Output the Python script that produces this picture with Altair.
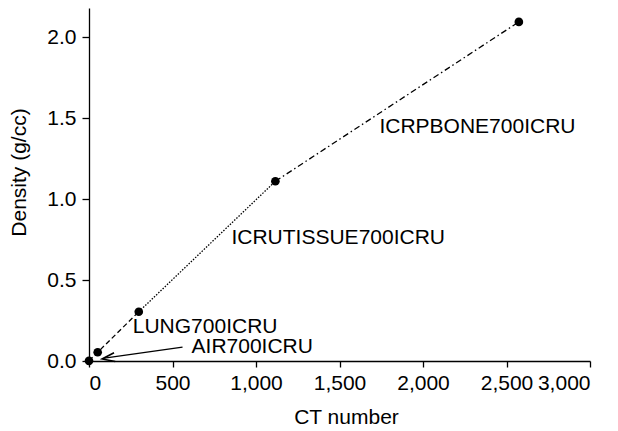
import altair as alt
import pandas as pd

# Data
materials = ["AIR700ICRU", "AIR700ICRU", "LUNG700ICRU", "ICRUTISSUE700ICRU", "ICRPBONE700ICRU"]
ct_number = [0, 52, 298, 1116, 2574]
density = [0.001, 0.054, 0.304, 1.11, 2.094]

# segments: which points each line style joins
seg_dashed = [0, 1, 2]
seg_dotted = [2, 3]
seg_dashdot = [3, 4]

# label annotations (data units)
label_text = ["ICRPBONE700ICRU", "ICRUTISSUE700ICRU", "LUNG700ICRU", "AIR700ICRU"]
label_x = [1739, 853, 262, 614]
label_y = [1.444, 0.759, 0.21, 0.086]

# arrow from AIR label to the air point
arrow_x = [560]
arrow_y = [0.086]
arrow_x2 = [92]
arrow_y2 = [0.018]

FONT = "Liberation Sans"
FS = 21

pts = pd.DataFrame({"ct": ct_number, "density": density, "material": materials})

xs = alt.Scale(domain=[0, 3000], nice=False, zero=False)
ys = alt.Scale(domain=[0, 2.18], nice=False, zero=False)

xenc = alt.X("ct:Q", scale=xs, axis=alt.Axis(
    title="CT number", values=[0, 500, 1000, 1500, 2000, 2500, 3000], format=",d",
    titleX=257, titleY=56, titleBaseline="middle", titleAlign="center",
    labelPadding=5, tickSize=6))
yenc = alt.Y("density:Q", scale=ys, axis=alt.Axis(
    title="Density (g/cc)", values=[0, 0.5, 1.0, 1.5, 2.0], format=".1f",
    titleX=-70, titleY=164, titleAngle=-90, titleBaseline="middle", titleAlign="center",
    labelPadding=6, tickSize=7))

def seg(idx, dash):
    d = pts.iloc[idx].reset_index(drop=True)
    d["order"] = range(len(d))
    return alt.Chart(d).mark_line(color="black", strokeWidth=1.3, strokeDash=dash).encode(
        x=xenc, y=yenc, order="order:O")

l1 = seg(seg_dashed, [5, 3])
l2 = seg(seg_dotted, [1.5, 1.5])
l3 = seg(seg_dashdot, [6, 3, 1.5, 3])

points = alt.Chart(pts).mark_circle(color="black", size=75, opacity=1).encode(
    x=alt.X("ct:Q", scale=xs), y=alt.Y("density:Q", scale=ys))

labels_df = pd.DataFrame({"x": label_x, "y": label_y, "t": label_text})
labels = alt.Chart(labels_df).mark_text(
    align="left", baseline="middle", font=FONT, fontSize=FS, color="black").encode(
    x=alt.X("x:Q", scale=xs), y=alt.Y("y:Q", scale=ys), text="t:N")

arrow_df = pd.DataFrame({"x": arrow_x, "y": arrow_y, "x2": arrow_x2, "y2": arrow_y2})
arrow_line = alt.Chart(arrow_df).mark_rule(color="black", strokeWidth=1.3).encode(
    x=alt.X("x:Q", scale=xs), y=alt.Y("y:Q", scale=ys), x2="x2:Q", y2="y2:Q")
arrow_head = alt.Chart(arrow_df).mark_point(
    shape="M1,-0.7L-1,0L1,0.7", filled=False, color="black", strokeWidth=1.6,
    size=160, angle=352, opacity=1, xOffset=4).encode(
    x=alt.X("x2:Q", scale=xs), y=alt.Y("y2:Q", scale=ys))

chart = alt.layer(l1, l2, l3, arrow_line, arrow_head, points, labels).properties(
    width=501, height=353,
    autosize=alt.AutoSizeParams(type="none"),
    padding={"left": 81, "top": 0, "right": 20, "bottom": 70},
).configure_view(stroke=None).configure_axis(
    grid=False, domainColor="black", tickColor="black", labelColor="black",
    titleColor="black", labelFont=FONT, titleFont=FONT, labelFontSize=FS,
    titleFontSize=FS, titleFontWeight="normal", domainWidth=1.3, tickWidth=1.3,
)

chart.save("out.html", embed_options={"renderer": "svg", "actions": False})
